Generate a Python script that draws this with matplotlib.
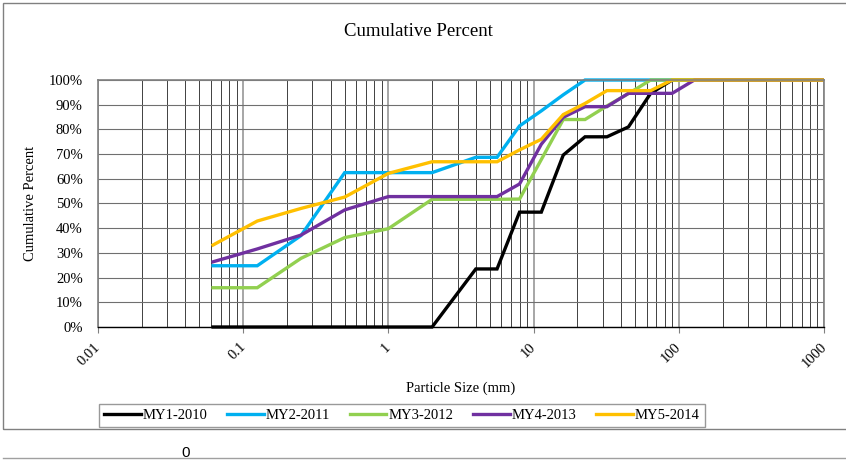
import matplotlib
matplotlib.use("Agg")
import matplotlib.pyplot as plt
import matplotlib.transforms as mtransforms
from matplotlib.patches import Rectangle
from matplotlib.lines import Line2D
from matplotlib.ticker import FixedLocator, FixedFormatter, LogLocator, NullFormatter

# sieve sizes (mm)
sizes = [0.062, 0.125, 0.25, 0.5, 1, 2, 4, 5.6, 8, 11.3, 16, 22.6, 32, 45, 64, 90, 128, 180, 256, 362, 512, 1024]

my1_2010 = [0, 0, 0, 0, 0, 0, 23.5, 23.5, 46.5, 46.5, 69.6, 77, 77, 81, 94.6, 100, 100, 100, 100, 100, 100, 100]
my2_2011 = [24.8, 24.8, 37, 62.5, 62.5, 62.5, 68.7, 68.7, 81.4, 87.5, 94, 100, 100, 100, 100, 100, 100, 100, 100, 100, 100, 100]
my3_2012 = [15.9, 15.9, 27.8, 36.2, 39.8, 51.7, 51.7, 51.7, 51.8, 67.8, 84, 84, 89.5, 94.5, 100, 100, 100, 100, 100, 100, 100, 100]
my4_2013 = [26.4, 31.6, 37.2, 47.4, 52.8, 52.8, 52.8, 52.8, 57.9, 74, 84.9, 89.2, 89.2, 94.6, 94.6, 94.6, 100, 100, 100, 100, 100, 100]
my5_2014 = [33.2, 42.9, 48, 52.6, 62.2, 66.9, 66.9, 66.9, 71.7, 76, 86, 90.5, 95.7, 95.7, 95.7, 100, 100, 100, 100, 100, 100, 100]

series = [
    ("MY1-2010", my1_2010, "#000000"),
    ("MY2-2011", my2_2011, "#00B0F0"),
    ("MY3-2012", my3_2012, "#92D050"),
    ("MY4-2013", my4_2013, "#7030A0"),
    ("MY5-2014", my5_2014, "#FFC000"),
]

x_ticks = [0.01, 0.1, 1, 10, 100, 1000]
x_tick_labels = ["0.01", "0.1", "1", "10", "100", "1000"]
y_ticks = list(range(0, 101, 10))
y_tick_labels = [f"{v}%" for v in y_ticks]

serif = "Liberation Serif"
W, H = 846, 461
fig = plt.figure(figsize=(W / 100, H / 100), dpi=100)

# outer chart frame and page leftovers
fig.patches.append(Rectangle((3 / W, 1 - 429 / H), 850 / W, 426 / H, transform=fig.transFigure,
                             fill=False, edgecolor="#808080", linewidth=1.0))
fig.lines.append(Line2D([3 / W, 1], [1 - 458 / H, 1 - 458 / H], transform=fig.transFigure,
                        color="#a0a0a0", linewidth=1.0))
fig.text(186 / W, 1 - 453 / H, "0", ha="center", va="center", fontsize=11, family="Liberation Sans")

ax = fig.add_axes([98 / W, 1 - 327 / H, 726 / W, 247 / H])
ax.set_xscale("log")
ax.set_xlim(0.01, 1000)
ax.set_ylim(0, 100)

# grid
ax.xaxis.set_major_locator(FixedLocator(x_ticks))
ax.xaxis.set_major_formatter(FixedFormatter(x_tick_labels))
ax.xaxis.set_minor_locator(LogLocator(base=10, subs=range(2, 10)))
ax.xaxis.set_minor_formatter(NullFormatter())
ax.yaxis.set_major_locator(FixedLocator(y_ticks))
ax.yaxis.set_major_formatter(FixedFormatter(y_tick_labels))
ax.grid(True, which="minor", axis="x", color="#404040", linewidth=0.7)
ax.grid(True, which="major", axis="x", color="#a6a6a6", linewidth=1.4)
ax.grid(True, which="major", axis="y", color="#6f6f6f", linewidth=0.8)
ax.set_axisbelow(True)

for side in ["left", "top", "right"]:
    ax.spines[side].set_color("#808080")
    ax.spines[side].set_linewidth(1.2)
ax.spines["bottom"].set_color("#000000")
ax.spines["bottom"].set_linewidth(1.0)

ax.tick_params(axis="y", which="both", length=0, pad=11, labelsize=10.5)
ax.tick_params(axis="x", which="minor", length=0)
ax.tick_params(axis="x", which="major", length=4, color="#808080", pad=2, labelsize=10.5)
for lab in ax.get_yticklabels():
    lab.set_family(serif)
shift = mtransforms.ScaledTranslation(5 / 100, -5 / 100, fig.dpi_scale_trans)
for lab in ax.get_xticklabels():
    lab.set_family(serif)
    lab.set_rotation(45)
    lab.set_ha("right")
    lab.set_va("top")
    lab.set_transform(lab.get_transform() + shift)

clip = Rectangle((0, -0.05), 1, 1.1, transform=ax.transAxes, fill=False, visible=False)
ax.add_patch(clip)
for name, vals, color in series:
    line, = ax.plot(sizes, vals, color=color, linewidth=2.4, label=name, solid_joinstyle="miter")
    line.set_clip_path(clip)

fig.text(418 / W, 1 - 32 / H, "Cumulative Percent", ha="center", va="center", family=serif, fontsize=13.5)
ax.set_xlabel("Particle Size (mm)", family=serif, fontsize=10.5, labelpad=8)
ax.set_ylabel("Cumulative Percent", family=serif, fontsize=10.5, labelpad=8)

leg = fig.legend(loc="center", bbox_to_anchor=(402 / W, 1 - 415.5 / H), ncol=5, frameon=True,
                 fancybox=False, handlelength=2.5, handletextpad=0.15, columnspacing=1.35,
                 borderpad=0.35, prop={"family": serif, "size": 10.5})
leg.get_frame().set_edgecolor("#808080")
leg.get_frame().set_linewidth(1.0)

fig.savefig("out.png", dpi=100)
